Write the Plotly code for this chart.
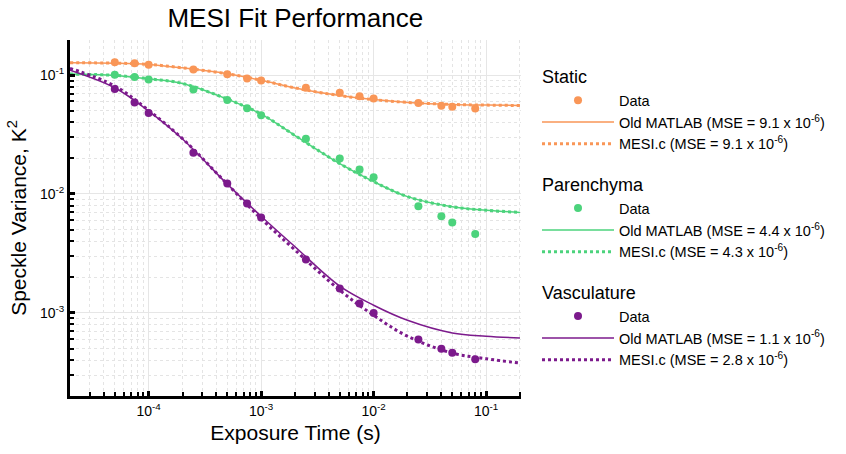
import plotly.graph_objects as go

# Exposure times of the measured frames (s)
exposure = [5e-5, 7.5e-5, 1e-4, 2.5e-4, 5e-4, 7.5e-4, 1e-3, 2.5e-3, 5e-3,
            7.5e-3, 1e-2, 2.5e-2, 4e-2, 5e-2, 8e-2]

# Measured speckle variance per region
static_data = [0.1285, 0.126, 0.122, 0.1116, 0.1014, 0.0938, 0.0902, 0.0782,
               0.0710, 0.0665, 0.0636, 0.0581, 0.0552, 0.0541, 0.0524]
parenchyma_data = [0.1006, 0.0962, 0.0920, 0.0758, 0.0617, 0.0527, 0.0460,
                   0.0291, 0.0199, 0.0161, 0.0138, 0.00789, 0.00650, 0.00575,
                   0.00461]
vasculature_data = [0.0762, 0.0589, 0.0479, 0.0222, 0.01226, 0.00832, 0.00634,
                    0.00281, 0.00160, 0.00120, 0.000998, 0.000596, 0.000500,
                    0.000463, 0.000407]

# Fitted curves sampled along the exposure axis
fit_exposure = [2e-5, 5e-5, 1e-4, 2e-4, 5e-4, 1e-3, 2e-3, 5e-3, 1e-2, 2e-2,
                5e-2, 1e-1, 2e-1]
static_old = [0.127, 0.126, 0.123, 0.115, 0.1025, 0.0905, 0.078, 0.0672,
              0.0622, 0.0589, 0.0566, 0.0559, 0.0555]
static_mesi = [0.127, 0.126, 0.123, 0.115, 0.1025, 0.0905, 0.078, 0.0672,
               0.0622, 0.0589, 0.0566, 0.0559, 0.0555]
parenchyma_old = [0.102, 0.0994, 0.0931, 0.085, 0.0628, 0.0470, 0.031,
                  0.0180, 0.0127, 0.0095, 0.0078, 0.0073, 0.0070]
parenchyma_mesi = [0.102, 0.0994, 0.0931, 0.085, 0.0628, 0.0470, 0.031,
                   0.0180, 0.0127, 0.0095, 0.0078, 0.0073, 0.0070]
vasculature_old = [0.110, 0.0782, 0.0498, 0.0290, 0.0121, 0.0065, 0.0036,
                   0.00168, 0.00116, 0.000867, 0.000678, 0.000636, 0.000615]
vasculature_mesi = [0.114, 0.081, 0.0505, 0.0292, 0.0121, 0.0062, 0.00338,
                    0.00155, 0.000955, 0.000636, 0.000459, 0.000412, 0.000378]

groups = [
    ("Static", "#F99657", static_data, static_old, static_mesi, "9.1", "9.1"),
    ("Parenchyma", "#4CD37C", parenchyma_data, parenchyma_old,
     parenchyma_mesi, "4.4", "4.3"),
    ("Vasculature", "#7C1A8C", vasculature_data, vasculature_old,
     vasculature_mesi, "1.1", "2.8"),
]

x_ticks = [1e-4, 1e-3, 1e-2, 1e-1]
x_ticktext = ["10<sup>-4</sup>", "10<sup>-3</sup>", "10<sup>-2</sup>",
              "10<sup>-1</sup>"]
y_ticks = [1e-3, 1e-2, 1e-1]
y_ticktext = ["10<sup>-3</sup>", "10<sup>-2</sup>", "10<sup>-1</sup>"]

FONT = "Liberation Sans, Arial, Helvetica, sans-serif"

fig = go.Figure()
for name, color, data, old, mesi, mse_old, mse_mesi in groups:
    fig.add_trace(go.Scatter(
        x=exposure, y=data, mode="markers", name="Data",
        legendgroup=name,
        legendgrouptitle=dict(text=name, font=dict(size=18, color="black")),
        marker=dict(color=color, size=8)))
    fig.add_trace(go.Scatter(
        x=fit_exposure, y=old, mode="lines", legendgroup=name,
        name=f"Old MATLAB (MSE = {mse_old} x 10<sup>-6</sup>)",
        line=dict(color=color, width=1.5, shape="spline")))
    fig.add_trace(go.Scatter(
        x=fit_exposure, y=mesi, mode="lines", legendgroup=name,
        name=f"MESI.c (MSE = {mse_mesi} x 10<sup>-6</sup>)",
        line=dict(color=color, width=3, dash="dot", shape="spline")))

# 2..9 x 10^n positions for the minor ticks and dashed grid
minor_vals = [m * 10.0 ** e for e in range(-5, 0) for m in range(2, 10)]

axis_common = dict(
    type="log", showline=True, linecolor="black", linewidth=3,
    ticks="inside", ticklen=5, tickwidth=3, tickcolor="black",
    showgrid=True, gridcolor="#e6e6e6", gridwidth=1, zeroline=False,
    tickfont=dict(size=14, color="black"),
    minor=dict(tickvals=minor_vals, ticks="inside", ticklen=4, tickwidth=2,
               tickcolor="black", showgrid=True, gridcolor="#e4e4e4",
               griddash="3px,3px", gridwidth=1),
)

fig.update_xaxes(**axis_common, range=[-4.699, -0.69],
                 tickvals=x_ticks, ticktext=x_ticktext,
                 title=dict(text="Exposure Time (s)",
                            font=dict(size=21, color="black"), standoff=8))
fig.update_yaxes(**axis_common, range=[-3.699, -0.705],
                 tickvals=y_ticks, ticktext=y_ticktext,
                 title=dict(text="Speckle Variance, K<sup>2</sup>",
                            font=dict(size=21, color="black"), standoff=8))

fig.update_layout(
    width=846, height=454,
    margin=dict(l=70, r=325, t=40, b=58, autoexpand=False),
    paper_bgcolor="white", plot_bgcolor="white",
    font=dict(family=FONT, color="black"),
    title=dict(text="MESI Fit Performance", x=0.349, xanchor="center",
               y=0.96, yanchor="middle",
               font=dict(size=26, color="black")),
    legend=dict(x=1.0355, y=0.95, xanchor="left", yanchor="top",
                font=dict(size=14.5), itemwidth=72, tracegroupgap=16,
                bgcolor="rgba(0,0,0,0)"),
)

fig.write_html("out.html")
